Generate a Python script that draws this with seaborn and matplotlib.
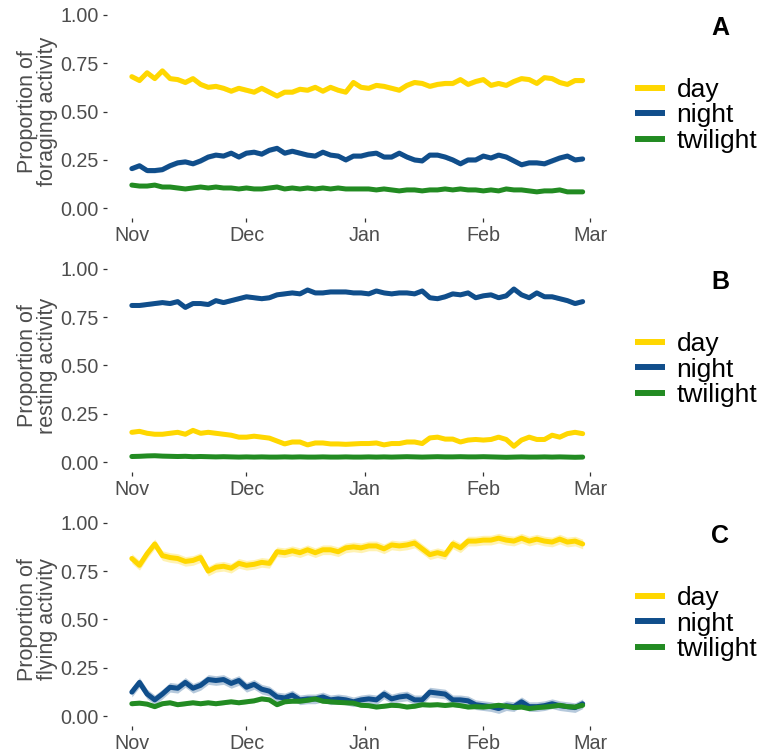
import numpy as np
import pandas as pd
import matplotlib
matplotlib.use("Agg")
import matplotlib.pyplot as plt
import matplotlib.dates as mdates
import seaborn as sns

# Daily-period activity proportions, sampled every second day (1 Nov - 27 Feb)
dates = pd.date_range("2018-11-01", periods=60, freq="2D")
periods = ["day", "night", "twilight"]
palette = {"day": "#FFD700", "night": "#104E8B", "twilight": "#228B22"}

foraging_day = [
    0.68, 0.66, 0.70, 0.67, 0.71, 0.67, 0.665, 0.65, 0.67, 0.64,
    0.625, 0.63, 0.62, 0.605, 0.62, 0.61, 0.60, 0.62, 0.60, 0.58,
    0.60, 0.60, 0.615, 0.61, 0.625, 0.605, 0.625, 0.61, 0.60, 0.65,
    0.625, 0.62, 0.635, 0.63, 0.62, 0.61, 0.635, 0.65, 0.645, 0.63,
    0.64, 0.645, 0.645, 0.665, 0.64, 0.655, 0.665, 0.635, 0.645, 0.635,
    0.655, 0.67, 0.665, 0.645, 0.675, 0.67, 0.65, 0.64, 0.66, 0.66,
]
foraging_night = [
    0.205, 0.22, 0.195, 0.195, 0.20, 0.22, 0.235, 0.24, 0.23, 0.245,
    0.265, 0.275, 0.27, 0.285, 0.265, 0.285, 0.29, 0.28, 0.30, 0.31,
    0.285, 0.295, 0.285, 0.275, 0.27, 0.29, 0.275, 0.27, 0.25, 0.27,
    0.27, 0.28, 0.285, 0.265, 0.265, 0.285, 0.265, 0.25, 0.245, 0.275,
    0.275, 0.265, 0.25, 0.23, 0.25, 0.25, 0.27, 0.26, 0.275, 0.265,
    0.245, 0.225, 0.235, 0.235, 0.23, 0.245, 0.26, 0.27, 0.25, 0.255,
]
foraging_twilight = [
    0.12, 0.115, 0.115, 0.12, 0.11, 0.11, 0.105, 0.10, 0.105, 0.11,
    0.105, 0.11, 0.105, 0.105, 0.10, 0.105, 0.10, 0.10, 0.105, 0.11,
    0.10, 0.105, 0.10, 0.105, 0.10, 0.105, 0.10, 0.105, 0.10, 0.10,
    0.10, 0.10, 0.095, 0.10, 0.095, 0.09, 0.095, 0.095, 0.09, 0.095,
    0.095, 0.10, 0.095, 0.10, 0.095, 0.095, 0.09, 0.095, 0.09, 0.10,
    0.095, 0.095, 0.09, 0.085, 0.09, 0.09, 0.095, 0.085, 0.085, 0.085,
]

resting_day = [
    0.155, 0.16, 0.15, 0.145, 0.145, 0.15, 0.155, 0.145, 0.165, 0.15,
    0.155, 0.15, 0.145, 0.14, 0.13, 0.13, 0.135, 0.13, 0.125, 0.11,
    0.095, 0.105, 0.105, 0.09, 0.10, 0.10, 0.095, 0.095, 0.093, 0.095,
    0.097, 0.097, 0.10, 0.09, 0.097, 0.097, 0.105, 0.105, 0.097, 0.126,
    0.13, 0.12, 0.12, 0.105, 0.115, 0.118, 0.115, 0.118, 0.13, 0.118,
    0.083, 0.115, 0.13, 0.118, 0.118, 0.14, 0.13, 0.148, 0.155, 0.148,
]
resting_night = [
    0.81, 0.81, 0.815, 0.82, 0.825, 0.82, 0.83, 0.80, 0.82, 0.82,
    0.815, 0.835, 0.825, 0.835, 0.845, 0.855, 0.85, 0.845, 0.85, 0.865,
    0.87, 0.875, 0.87, 0.89, 0.875, 0.875, 0.88, 0.88, 0.88, 0.875,
    0.875, 0.87, 0.885, 0.875, 0.87, 0.875, 0.875, 0.87, 0.885, 0.85,
    0.845, 0.855, 0.87, 0.865, 0.875, 0.85, 0.86, 0.865, 0.85, 0.86,
    0.895, 0.865, 0.85, 0.875, 0.855, 0.855, 0.845, 0.835, 0.82, 0.83,
]
resting_twilight = [
    0.030, 0.031, 0.033, 0.034, 0.032, 0.031, 0.030, 0.031, 0.029, 0.030,
    0.029, 0.028, 0.029, 0.028, 0.027, 0.028, 0.027, 0.028, 0.027, 0.027,
    0.028, 0.027, 0.028, 0.027, 0.027, 0.028, 0.027, 0.027, 0.028, 0.027,
    0.027, 0.028, 0.027, 0.028, 0.027, 0.028, 0.029, 0.028, 0.027, 0.028,
    0.029, 0.028, 0.028, 0.029, 0.028, 0.028, 0.029, 0.028, 0.027, 0.026,
    0.027, 0.028, 0.027, 0.027, 0.028, 0.027, 0.028, 0.027, 0.026, 0.027,
]

flying_day = [
    0.815, 0.78, 0.84, 0.89, 0.83, 0.82, 0.815, 0.80, 0.805, 0.82,
    0.75, 0.77, 0.775, 0.765, 0.79, 0.78, 0.785, 0.795, 0.79, 0.85,
    0.845, 0.855, 0.845, 0.86, 0.845, 0.86, 0.86, 0.85, 0.87, 0.875,
    0.87, 0.88, 0.88, 0.865, 0.885, 0.88, 0.885, 0.895, 0.865, 0.835,
    0.845, 0.835, 0.89, 0.87, 0.905, 0.905, 0.91, 0.91, 0.92, 0.91,
    0.905, 0.92, 0.905, 0.915, 0.905, 0.90, 0.915, 0.90, 0.905, 0.89,
]
flying_night = [
    0.125, 0.175, 0.115, 0.085, 0.115, 0.15, 0.145, 0.175, 0.145, 0.16,
    0.19, 0.185, 0.19, 0.17, 0.185, 0.15, 0.165, 0.14, 0.13, 0.10,
    0.095, 0.11, 0.085, 0.09, 0.09, 0.10, 0.085, 0.09, 0.085, 0.075,
    0.085, 0.09, 0.085, 0.115, 0.09, 0.10, 0.105, 0.085, 0.085, 0.125,
    0.12, 0.115, 0.085, 0.085, 0.08, 0.06, 0.055, 0.05, 0.04, 0.055,
    0.05, 0.075, 0.05, 0.05, 0.055, 0.065, 0.055, 0.05, 0.045, 0.065,
]
flying_twilight = [
    0.065, 0.068, 0.063, 0.05, 0.065, 0.07, 0.06, 0.065, 0.07, 0.065,
    0.07, 0.065, 0.07, 0.075, 0.07, 0.075, 0.08, 0.09, 0.085, 0.06,
    0.075, 0.078, 0.078, 0.083, 0.09, 0.078, 0.075, 0.072, 0.07, 0.068,
    0.057, 0.055, 0.048, 0.052, 0.057, 0.055, 0.048, 0.052, 0.06, 0.058,
    0.06, 0.056, 0.06, 0.055, 0.048, 0.05, 0.048, 0.052, 0.057, 0.052,
    0.045, 0.048, 0.04, 0.045, 0.048, 0.052, 0.057, 0.05, 0.048, 0.057,
]

# Half-width of the confidence band around each mean line
foraging_ci = {"day": 0.012, "night": 0.012, "twilight": 0.006}
resting_ci = {"day": 0.009, "night": 0.01, "twilight": 0.004}
flying_ci = {"day": 0.025, "night": 0.025, "twilight": 0.01}

panel_letters = ["A", "B", "C"]
y_titles = ["Proportion of\nforaging activity",
            "Proportion of\nresting activity",
            "Proportion of\nflying activity"]
panel_series = [
    {"day": foraging_day, "night": foraging_night, "twilight": foraging_twilight},
    {"day": resting_day, "night": resting_night, "twilight": resting_twilight},
    {"day": flying_day, "night": flying_night, "twilight": flying_twilight},
]
panel_ci = [foraging_ci, resting_ci, flying_ci]
y_ticks = [0.0, 0.25, 0.5, 0.75, 1.0]

sns.set_theme(style="white")
plt.rcParams["font.family"] = ["Liberation Sans", "DejaVu Sans"]

W, H = 763, 755
fig = plt.figure(figsize=(W / 100, H / 100), dpi=100)
fig.patch.set_facecolor("white")

# panel boxes in pixels: (left, top, right, bottom)
boxes = [(107, 5, 611, 218), (107, 259, 611, 472), (107, 513, 611, 726)]
x_lo = pd.Timestamp("2018-10-25 12:00")
x_hi = pd.Timestamp("2019-03-06 10:00")

for letter, ytitle, series, ci, (l, t, r, b) in zip(
        panel_letters, y_titles, panel_series, panel_ci, boxes):
    ax = fig.add_axes([l / W, 1 - b / H, (r - l) / W, (b - t) / H])
    ax.set_facecolor("white")

    df = pd.concat([
        pd.DataFrame({"date": dates, "value": series[p], "period": p})
        for p in periods
    ], ignore_index=True)

    for p in periods:
        vals = np.asarray(series[p])
        ax.fill_between(dates, vals - ci[p], vals + ci[p],
                        color=palette[p], alpha=0.3, lw=0, zorder=1)

    sns.lineplot(data=df, x="date", y="value", hue="period",
                 hue_order=periods, palette=palette, linewidth=3.6,
                 errorbar=None, legend=False, ax=ax, zorder=2)

    ax.set_xlim(x_lo, x_hi)
    ax.set_ylim(-0.05, 1.05)
    ax.set_yticks(y_ticks)
    ax.set_yticklabels([f"{v:.2f}" for v in y_ticks])
    ax.xaxis.set_major_locator(mdates.MonthLocator())
    ax.xaxis.set_major_formatter(mdates.DateFormatter("%b"))
    ax.tick_params(axis="both", which="major", length=3.2, width=0.9,
                   color="#333333", labelsize=14.2, labelcolor="#4D4D4D",
                   pad=2.5, bottom=True, left=True)
    for s in ax.spines.values():
        s.set_visible(False)
    ax.grid(False)
    ax.set_xlabel("")
    ax.set_ylabel(ytitle, fontsize=15.5, color="#4D4D4D",
                  labelpad=2, linespacing=0.95)

    handles = ax.lines[:3]
    leg = fig.legend(handles, periods, loc="center left",
                     bbox_to_anchor=(635 / W, 1 - (t + b) / 2 / H - 4 / H),
                     frameon=False, fontsize=19, handlelength=1.13,
                     handletextpad=0.45, labelspacing=0.05,
                     borderpad=0, borderaxespad=0, labelcolor="black")
    for line in leg.get_lines():
        line.set_linewidth(4.3)
        line.set_solid_capstyle("butt")

    fig.text(720 / W, 1 - (t + 23) / H, letter, fontsize=18,
             fontweight="bold", ha="center", va="center", color="black")

fig.savefig("out.png", dpi=100, facecolor="white")
